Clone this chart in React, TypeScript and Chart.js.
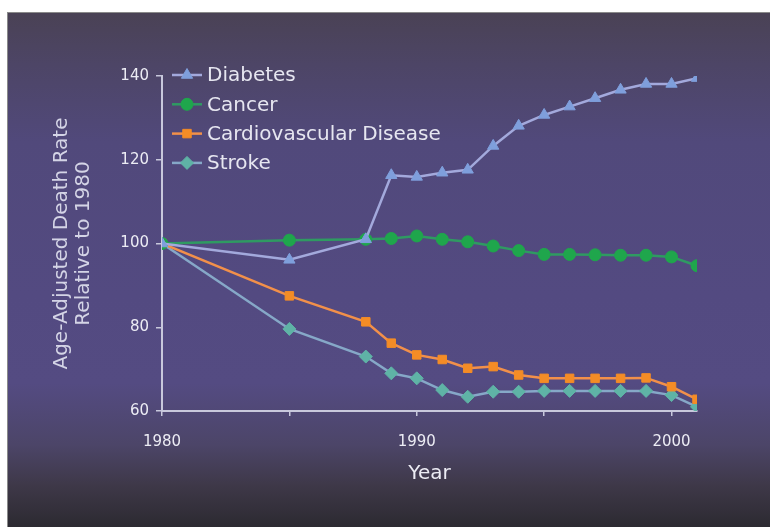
import React, { useEffect, useRef } from "react";
import { Chart, registerables } from "chart.js";
import { drawPoint } from "chart.js/helpers";

Chart.register(...registerables);

const years = [1980, 1985, 1988, 1989, 1990, 1991, 1992, 1993, 1994, 1995, 1996, 1997, 1998, 1999, 2000, 2001];
const diabetes = [100, 96.1, 101, 116.3, 115.9, 116.9, 117.6, 123.3, 128.1, 130.7, 132.7, 134.7, 136.7, 138.1, 138.1, 139.5];
const cancer = [100, 100.8, 101, 101.2, 101.8, 101, 100.4, 99.4, 98.3, 97.4, 97.4, 97.3, 97.2, 97.2, 96.8, 94.7];
const cardio = [100, 87.5, 81.3, 76.2, 73.4, 72.3, 70.2, 70.6, 68.6, 67.8, 67.8, 67.8, 67.8, 67.9, 65.8, 62.8];
const stroke = [100, 79.6, 73, 69, 67.8, 65, 63.4, 64.6, 64.6, 64.8, 64.8, 64.8, 64.8, 64.8, 63.8, 61];

const seriesNames = ["Diabetes", "Cancer", "Cardiovascular Disease", "Stroke"];
const xLabelYears = [1980, 1990, 2000];
const yTitle = ["Age-Adjusted Death Rate", "Relative to 1980"];
const xTitle = "Year";

const FONT = "'DejaVu Sans', Verdana, sans-serif";

const legendPlugin = {
  id: "customLegend",
  afterDatasetsDraw(chart: any) {
    const { ctx, chartArea } = chart;
    chart.data.datasets.forEach((ds: any, i: number) => {
      const y = chartArea.top - 1 + i * 29.3;
      const x0 = chartArea.left + 10;
      ctx.save();
      ctx.strokeStyle = ds.borderColor;
      ctx.lineWidth = 2.5;
      ctx.beginPath();
      ctx.moveTo(x0, y);
      ctx.lineTo(x0 + 30, y);
      ctx.stroke();
      ctx.fillStyle = ds.pointBackgroundColor;
      ctx.strokeStyle = ds.pointBorderColor;
      ctx.lineWidth = 1;
      drawPoint(ctx, { pointStyle: ds.pointStyle, rotation: 0, radius: ds.pointRadius, borderWidth: 1 }, x0 + 15, y);
      ctx.fillStyle = "#e6e6f0";
      ctx.font = `20px ${FONT}`;
      ctx.textBaseline = "middle";
      ctx.textAlign = "left";
      ctx.fillText(ds.label, x0 + 35, y + 1);
      ctx.restore();
    });
  },
};

function mk(label: string, vals: number[], line: string, marker: string, style: string, r: number) {
  return {
    label,
    data: years.map((x, i) => ({ x, y: vals[i] })),
    borderColor: line,
    borderWidth: 2.5,
    pointStyle: style,
    pointRadius: r,
    pointBackgroundColor: marker,
    pointBorderColor: marker,
    pointBorderWidth: 1,
    tension: 0,
    fill: false,
  };
}

export default function App() {
  const ref = useRef<HTMLCanvasElement>(null);
  useEffect(() => {
    const chart = new Chart(ref.current as HTMLCanvasElement, {
      type: "line",
      data: {
        datasets: [
          mk(seriesNames[0], diabetes, "#a3a9dc", "#7f9fdc", "triangle", 6.5),
          mk(seriesNames[1], cancer, "#2f9a62", "#1fa64c", "circle", 6),
          mk(seriesNames[2], cardio, "#f2904a", "#f48c26", "rect", 6),
          mk(seriesNames[3], stroke, "#86a8c8", "#5fb3a6", "rectRot", 6.5),
        ] as any,
      },
      options: {
        responsive: false,
        animation: false,
        layout: { padding: { top: 76, right: 73, left: 0, bottom: 0 } },
        plugins: { legend: { display: false }, tooltip: { enabled: false } },
        scales: {
          x: {
            type: "linear",
            min: 1980,
            max: 2001,
            afterFit: (s: any) => { s.height = 116; },
            ticks: {
              stepSize: 5,
              includeBounds: false,
              autoSkip: false,
              maxRotation: 0,
              color: "#ececf4",
              padding: 17,
              font: { family: FONT, size: 15 },
              callback: (v: any) => (xLabelYears.includes(Number(v)) ? String(v) : ""),
            },
            grid: { drawOnChartArea: false, drawTicks: true, tickLength: 5, color: "#c8c8dc", lineWidth: 1.5 },
            border: { display: true, color: "#c8c8dc", width: 2 },
            title: {
              display: true,
              text: xTitle,
              color: "#ececf4",
              font: { family: FONT, size: 20 },
              padding: { top: 0, bottom: 41 },
            },
          },
          y: {
            min: 60,
            max: 140,
            afterFit: (s: any) => { s.width = 162; },
            ticks: {
              stepSize: 20,
              color: "#ececf4",
              padding: 7,
              font: { family: FONT, size: 15 },
            },
            grid: { drawOnChartArea: false, drawTicks: true, tickLength: 6, color: "#c8c8dc", lineWidth: 1.5 },
            border: { display: true, color: "#c8c8dc", width: 2 },
            title: {
              display: true,
              text: yTitle,
              color: "#d4d4e6",
              font: { family: FONT, size: 20, lineHeight: 1.1 },
              padding: { top: 51, bottom: 0 },
            },
          },
        },
      } as any,
      plugins: [legendPlugin],
    });
    return () => chart.destroy();
  }, []);

  return (
    <div style={{ position: "absolute", left: 0, top: 0, width: 770, height: 527, background: "#ffffff", overflow: "hidden" }}>
      <div
        style={{
          position: "absolute",
          left: 7,
          top: 12,
          width: 770 - 7,
          height: 527 - 12,
          boxSizing: "border-box",
          borderLeft: "1px solid #8a8a8a",
          borderTop: "1px solid #8a8a8a",
          background:
            "linear-gradient(to bottom, #4a4255 0%, #4d4566 10%, #51497b 25%, #534a81 55%, #544b82 72%, #4c4568 84%, #3e3848 92%, #2c2a31 100%)",
        }}
      />
      <canvas ref={ref} width={770} height={527} style={{ position: "absolute", left: 0, top: 0, width: 770, height: 527 }} />
    </div>
  );
}
